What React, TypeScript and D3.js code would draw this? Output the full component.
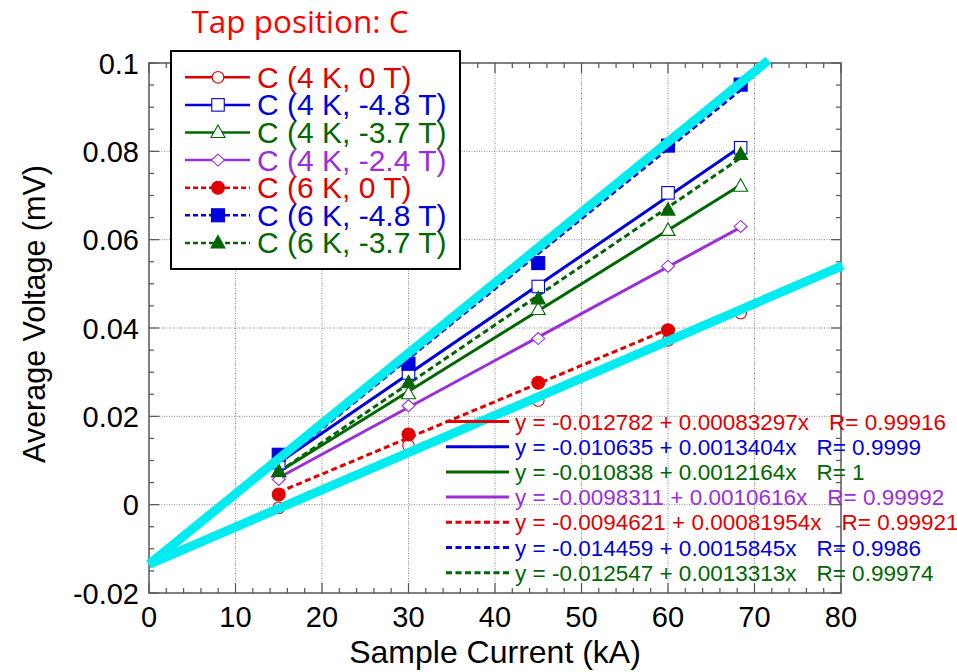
import React from 'react';
import * as d3 from 'd3';

// ---------- data ----------
const currents = [15, 30, 45, 60, 68.4];
const v4K0T = [-0.0007, 0.0134, 0.0236, 0.0372, 0.0434];
const v4Km48 = [0.0095, 0.0298, 0.0494, 0.0706, 0.0808];
const v4Km37 = [0.0074, 0.0251, 0.0442, 0.0621, 0.0721];
const v4Km24 = [0.0057, 0.0224, 0.0376, 0.054, 0.063];
const v6K0T = [0.0023, 0.0159, 0.0276, 0.0395];
const v6Km48 = [0.0113, 0.0319, 0.0547, 0.0813, 0.0951];
const v6Km37 = [0.0075, 0.0276, 0.0466, 0.0667, 0.0793];

const seriesNames = [
  'C (4 K, 0 T)',
  'C (4 K, -4.8 T)',
  'C (4 K, -3.7 T)',
  'C (4 K, -2.4 T)',
  'C (6 K, 0 T)',
  'C (6 K, -4.8 T)',
  'C (6 K, -3.7 T)',
];
const seriesValues = [v4K0T, v4Km48, v4Km37, v4Km24, v6K0T, v6Km48, v6Km37];
const fitIntercepts = ['-0.012782', '-0.010635', '-0.010838', '-0.0098311', '-0.0094621', '-0.014459', '-0.012547'];
const fitSlopes = ['0.00083297', '0.0013404', '0.0012164', '0.0010616', '0.00081954', '0.0015845', '0.0013313'];
const fitR = ['0.99916', '0.9999', '1', '0.99992', '0.99921', '0.9986', '0.99974'];

const xTicks = [0, 10, 20, 30, 40, 50, 60, 70, 80];
const yTicks = [-0.02, 0, 0.02, 0.04, 0.06, 0.08, 0.1];
const yTickLabels = ['-0.02', '0', '0.02', '0.04', '0.06', '0.08', '0.1'];

// guide lines (cyan) : common start, two ends
const guideStart = [0, -0.0135];
const guideEnds = [
  [71.6, 0.1006],
  [80.2, 0.0541],
];

const title = 'Tap position: C';
const xLabel = 'Sample Current (kA)';
const yLabel = 'Average Voltage (mV)';

// ---------- styles ----------
const colors = ['#e00000', '#0000dd', '#006600', '#9a2fd8', '#e00000', '#0000dd', '#006600'];
const dashed = [false, false, false, false, true, true, true];
const shapes = ['circle', 'square', 'triangle', 'diamond', 'circle', 'square', 'triangle'];
const filled = [false, false, false, false, true, true, true];

const W = 957;
const H = 672;
const L = 149, R = 841, T = 63, B = 593;
const FONT = '"Liberation Sans", Arial, Helvetica, sans-serif';
const DASH = '6,3.5';

function Marker({ shape, fill, color, cx, cy }: any) {
  const f = fill ? color : '#fff';
  const sw = 1.1;
  if (shape === 'circle') {
    return <circle cx={cx} cy={cy} r={fill ? 6.5 : 5.8} fill={f} stroke={color} strokeWidth={sw} />;
  }
  if (shape === 'square') {
    const s = fill ? 13 : 12.5;
    return <rect x={cx - s / 2} y={cy - s / 2} width={s} height={s} fill={f} stroke={color} strokeWidth={sw} />;
  }
  if (shape === 'triangle') {
    const w = 14, h = 12.5;
    const p = `${cx},${cy - h * 0.6} ${cx + w / 2},${cy + h * 0.4} ${cx - w / 2},${cy + h * 0.4}`;
    return <polygon points={p} fill={f} stroke={color} strokeWidth={sw} />;
  }
  const a = 6.5, b = 6;
  const p = `${cx},${cy - b} ${cx + a},${cy} ${cx},${cy + b} ${cx - a},${cy}`;
  return <polygon points={p} fill={f} stroke={color} strokeWidth={sw} />;
}

export default function App() {
  const x = d3.scaleLinear().domain([0, 80]).range([L, R]);
  const y = d3.scaleLinear().domain([-0.02, 0.1]).range([B, T]);

  const xMinor = d3.range(0, 80.001, 2);
  const yMinor = d3.range(-0.02, 0.1001, 0.005);

  const line = d3
    .line<number[]>()
    .x((d) => x(d[0]))
    .y((d) => y(d[1]));

  const fitLines = seriesValues.map((vals, i) => {
    const a = parseFloat(fitIntercepts[i]);
    const b = parseFloat(fitSlopes[i]);
    const xs = currents.slice(0, vals.length);
    const x0 = xs[0], x1 = xs[xs.length - 1];
    return line([
      [x0, a + b * x0],
      [x1, a + b * x1],
    ]) as string;
  });

  const legRowY = (i: number) => 77.3 + i * 27.6;
  const eqRowY = (i: number) => 421.5 + i * 25.2;

  return (
    <svg width={W} height={H} style={{ position: 'absolute', left: 0, top: 0, background: '#fff' }} fontFamily={FONT}>
      <rect x={0} y={0} width={W} height={H} fill="#fff" />
      {/* grid */}
      <g stroke="#8a8a8a" strokeWidth={1} strokeDasharray="1,1.5">
        {xTicks.slice(1, -1).map((t) => (
          <line key={'gx' + t} x1={x(t)} x2={x(t)} y1={T} y2={B} />
        ))}
        {yTicks.slice(1, -1).map((t) => (
          <line key={'gy' + t} x1={L} x2={R} y1={y(t)} y2={y(t)} />
        ))}
      </g>
      {/* ticks */}
      <g stroke="#555" strokeWidth={1.2}>
        {xMinor.map((t, i) => {
          const len = i % 5 === 0 ? 10 : 5;
          return (
            <g key={'xt' + i}>
              <line x1={x(t)} x2={x(t)} y1={B} y2={B - len} />
              <line x1={x(t)} x2={x(t)} y1={T} y2={T + len} />
            </g>
          );
        })}
        {yMinor.map((t, i) => {
          const len = i % 4 === 0 ? 10 : 5;
          return (
            <g key={'yt' + i}>
              <line x1={L} x2={L + len} y1={y(t)} y2={y(t)} />
              <line x1={R} x2={R - len} y1={y(t)} y2={y(t)} />
            </g>
          );
        })}
      </g>
      <rect x={L} y={T} width={R - L} height={B - T} fill="none" stroke="#555" strokeWidth={1.5} />

      {/* tick labels */}
      <g fontSize={29} fill="#000">
        {xTicks.map((t) => (
          <text key={'xl' + t} x={x(t)} y={627} textAnchor="middle">
            {t}
          </text>
        ))}
        {yTicks.map((t, i) => (
          <text key={'yl' + t} x={139} y={y(t) + 10.5} textAnchor="end">
            {yTickLabels[i]}
          </text>
        ))}
      </g>
      <text x={(L + R) / 2} y={663} textAnchor="middle" fontSize={32}>
        {xLabel}
      </text>
      <text transform={`translate(45,314) rotate(-90)`} textAnchor="middle" fontSize={30.5}>
        {yLabel}
      </text>

      {/* fit lines */}
      {fitLines.map((d, i) => (
        <path
          key={'fit' + i}
          d={d}
          fill="none"
          stroke={colors[i]}
          strokeWidth={3}
          strokeDasharray={dashed[i] ? DASH : undefined}
        />
      ))}
      {/* markers */}
      {seriesValues.map((vals, i) =>
        vals.map((v, j) => (
          <Marker key={`m${i}-${j}`} shape={shapes[i]} fill={filled[i]} color={colors[i]} cx={x(currents[j])} cy={y(v)} />
        ))
      )}

      {/* cyan guide lines */}
      {guideEnds.map((e, i) => (
        <line
          key={'g' + i}
          x1={x(guideStart[0])}
          y1={y(guideStart[1])}
          x2={x(e[0])}
          y2={y(e[1])}
          stroke="#00ecf0"
          strokeWidth={9}
        />
      ))}

      {/* fit equations legend */}
      <g fontSize={22.5}>
        {seriesNames.map((_, i) => (
          <g key={'eq' + i}>
            <line
              x1={446}
              x2={509}
              y1={eqRowY(i)}
              y2={eqRowY(i)}
              stroke={colors[i]}
              strokeWidth={3}
              strokeDasharray={dashed[i] ? DASH : undefined}
            />
            <text x={515} y={eqRowY(i) + 8} fill={colors[i]}>
              {`y = ${fitIntercepts[i]} + ${fitSlopes[i]}x`}
              <tspan dx={20}>{`R= ${fitR[i]}`}</tspan>
            </text>
          </g>
        ))}
      </g>

      {/* series legend */}
      <rect x={171} y={51} width={289} height={218} fill="#fff" stroke="#000" strokeWidth={2} />
      <g fontSize={30}>
        {seriesNames.map((n, i) => (
          <g key={'lg' + i}>
            <line
              x1={185}
              x2={250}
              y1={legRowY(i)}
              y2={legRowY(i)}
              stroke={colors[i]}
              strokeWidth={2.5}
              strokeDasharray={dashed[i] ? '5,3' : undefined}
            />
            <Marker shape={shapes[i]} fill={filled[i]} color={colors[i]} cx={218} cy={legRowY(i)} />
            <text x={257} y={legRowY(i) + 10.5} fill={colors[i]}>
              {n}
            </text>
          </g>
        ))}
      </g>

      {/* title */}
      <text x={300} y={33} textAnchor="middle" fontSize={31.5} fill="#ff0000" fontFamily='"Open Sans", "Noto Sans", sans-serif'>
        {title}
      </text>
    </svg>
  );
}
